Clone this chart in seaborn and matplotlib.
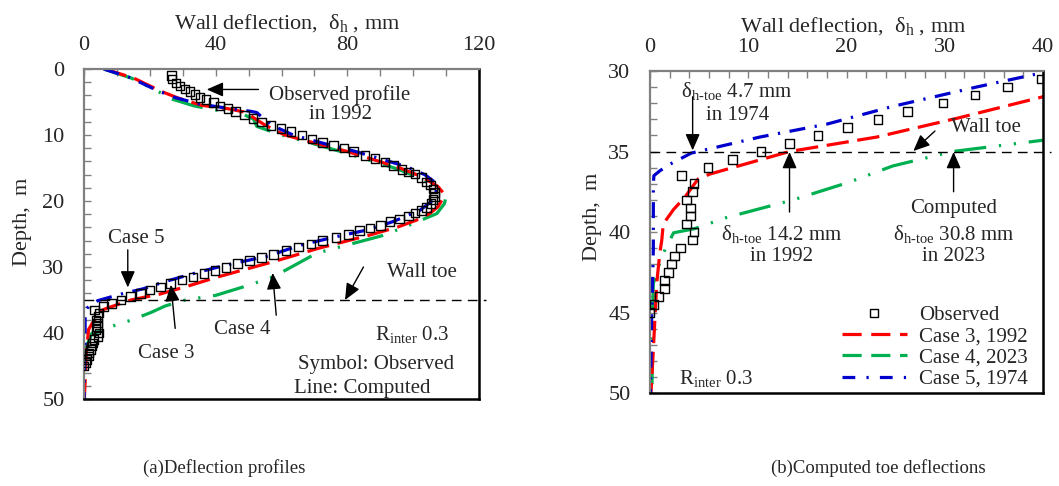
import numpy as np
import matplotlib
matplotlib.use("Agg")
import matplotlib.pyplot as plt
from matplotlib.lines import Line2D
from matplotlib.ticker import MultipleLocator
import seaborn as sns

# ---------------- data ----------------
obs_depth = [1.0, 1.5, 2.1, 2.6, 3.0, 3.4, 3.9, 4.3, 4.6, 5.1, 5.6, 6.0, 6.4, 7.0,
             7.5, 8.0, 8.6, 9.0, 9.5, 10.0, 10.6, 11.1, 11.6, 12.0, 12.5, 13.1,
             13.6, 14.1, 14.6, 15.2, 15.6, 15.9, 16.4, 17.1, 17.6, 18.2, 18.7,
             19.3, 19.8, 20.4, 21.0, 21.4, 21.8, 22.3, 22.7, 23.1, 23.7, 24.1,
             24.5, 25.1, 25.5, 26.0, 26.5, 27.0, 27.5, 28.1, 28.6, 29.0, 29.5,
             30.1, 30.5, 31.0, 31.5, 32.0, 32.5, 33.0, 33.5, 34.0, 34.5, 35.0,
             35.5, 36.0, 36.5, 37.0, 37.5, 38.0, 38.5, 39.0, 39.5, 40.0, 40.5,
             41.0, 41.5, 42.0, 42.5, 43.0, 43.5, 44.0, 44.5, 45.0]
obs_defl = [26.6, 26.8, 27.9, 29.2, 30.7, 32.2, 33.7, 35.3, 37.1, 39.3, 41.3, 43.7,
            46.1, 48.7, 51.3, 54.0, 56.8, 59.9, 62.9, 66.2, 69.2, 72.5, 75.8, 79.0,
            81.9, 85.4, 88.4, 91.5, 94.0, 96.6, 98.6, 100.6, 102.6, 104.0, 105.2,
            106.0, 106.4, 106.5, 106.0, 105.4, 104.0, 102.6, 100.6, 98.6, 95.8,
            93.0, 90.0, 86.9, 83.7, 80.3, 76.6, 72.5, 68.9, 65.1, 61.4, 57.5,
            54.0, 50.3, 46.6, 43.2, 39.8, 36.4, 33.1, 29.8, 26.2, 23.2, 20.1,
            17.1, 14.2, 11.3, 8.4, 5.9, 3.2, 4.5, 4.3, 3.7, 4.1, 4.1, 3.7, 4.5,
            4.3, 3.1, 2.5, 2.2, 1.9, 1.5, 1.5, 0.9, 0.4, 0.0]

case3_depth = [0, 1.4, 3.4, 4.4, 5.5, 6.0, 6.5, 7.2, 7.7, 8.5, 10.0, 11.3, 12.5,
               13.8, 15.0, 16.0, 16.8, 17.8, 18.8, 19.8, 20.9, 21.9, 22.9, 24.0,
               25.2, 27.2, 29.2, 30.7, 31.6, 32.9, 34.1, 35.0, 36.4, 36.7, 37.8,
               38.6, 39.5, 40.5, 41.3, 43.2, 47.3, 50.0]
case3_defl = [6.3, 15.2, 23.5, 28.6, 35.7, 43.6, 48.5, 51.0, 52.5, 55.0, 61.0,
              70.7, 80.0, 88.4, 96.0, 101.0, 104.2, 107.5, 109.2, 108.8, 107.5,
              105.0, 101.0, 95.0, 86.5, 71.0, 57.5, 46.5, 40.0, 31.5, 23.1, 14.2,
              6.1, 4.9, 3.6, 2.4, 1.35, 1.2, 1.0, 0.68, 0.34, 0.1]

case4_depth = [0, 1.4, 3.4, 4.6, 5.6, 6.3, 6.9, 7.6, 8.7, 10.0, 11.5, 12.8, 14.0,
               15.2, 16.4, 17.5, 18.4, 19.3, 20.4, 21.9, 23.6, 25.2, 27.9, 31.5,
               33.0, 34.3, 35.0, 35.9, 36.9, 38.0, 39.1, 39.8, 40.05, 41.5, 43.2,
               45.5, 50.0]
case4_defl = [6.0, 14.5, 22.5, 27.0, 33.5, 41.0, 48.5, 51.5, 52.5, 60.0, 71.0,
              80.0, 88.0, 95.5, 101.5, 105.5, 108.5, 110.0, 109.5, 107.2, 99.1,
              91.0, 70.7, 57.5, 48.5, 40.0, 30.8, 24.7, 20.3, 14.6, 7.8, 4.5,
              2.4, 1.2, 0.34, 0.25, 0.2]

case5_depth = [0, 1.3, 3.2, 4.3, 5.3, 5.9, 6.4, 6.6, 7.5, 8.5, 10.0, 11.3, 12.5,
               13.6, 14.8, 16.0, 17.3, 18.8, 19.8, 21.4, 23.1, 24.4, 25.5, 26.7,
               28.4, 29.5, 30.1, 31.0, 32.2, 33.3, 34.1, 35.1, 35.8, 36.2, 36.5,
               37.0, 41.1, 45.3, 50.0]
case5_defl = [6.0, 14.0, 22.0, 27.5, 35.0, 43.0, 50.5, 52.5, 54.5, 57.0, 63.5,
              73.0, 82.5, 90.0, 98.0, 103.5, 107.0, 107.0, 106.2, 102.1, 94.0,
              85.9, 75.8, 65.7, 55.5, 45.0, 40.0, 33.2, 24.7, 18.0, 11.2, 4.2,
              2.0, 1.0, 0.4, 0.34, 0.34, 0.17, 0.05]

wall_toe = 35.0
labels = ["Observed", "Case 3, 1992", "Case 4, 2023", "Case 5, 1974"]

# ---------------- style ----------------
sns.set_style("white")
plt.rcParams["font.family"] = ["Liberation Serif", "DejaVu Serif"]
plt.rcParams["mathtext.fontset"] = "custom"
plt.rcParams["mathtext.rm"] = "Liberation Serif"
plt.rcParams["mathtext.it"] = "Liberation Serif:italic"
plt.rcParams["mathtext.bf"] = "Liberation Serif:bold"

RED, GREEN, BLUE = "#ff0000", "#00b050", "#0000cc"
LW = 2.3
ls3 = (0, (7, 2.7))
ls4 = (0, (10, 4, 0.7, 4, 0.7, 4))
ls5 = (0, (5, 3, 0.7, 3))

fig = plt.figure(figsize=(10.59, 4.86), dpi=100)
W, H = 1059, 486
axA = fig.add_axes([84 / W, 1 - 399 / H, (479 - 84) / W, (399 - 69) / H])
axB = fig.add_axes([650 / W, 1 - 393 / H, (1043 - 650) / W, (393 - 71) / H])


def draw(ax):
    sns.lineplot(x=case4_defl, y=case4_depth, sort=False, estimator=None, ax=ax,
                 color=GREEN, lw=LW, linestyle=ls4)
    sns.lineplot(x=case3_defl, y=case3_depth, sort=False, estimator=None, ax=ax,
                 color=RED, lw=LW, linestyle=ls3)
    sns.lineplot(x=case5_defl, y=case5_depth, sort=False, estimator=None, ax=ax,
                 color=BLUE, lw=LW, linestyle=ls5)
    sns.scatterplot(x=obs_defl, y=obs_depth, ax=ax, marker="s", s=38,
                    facecolor="none", edgecolor="black", linewidth=1.0, zorder=5)


def style(ax, xmax, ymin, xmajor, xminor, ymajor, yminor):
    ax.set_xlim(0, xmax)
    ax.set_ylim(50, ymin)
    ax.xaxis.tick_top()
    ax.xaxis.set_label_position("top")
    ax.xaxis.set_major_locator(MultipleLocator(xmajor))
    ax.xaxis.set_minor_locator(MultipleLocator(xminor))
    ax.yaxis.set_major_locator(MultipleLocator(ymajor))
    ax.yaxis.set_minor_locator(MultipleLocator(yminor))
    ax.tick_params(axis="both", which="both", direction="in", length=5,
                   width=1.0, color="#808080", labelsize=16)
    ax.tick_params(axis="x", which="both", pad=10, top=True, bottom=False)
    ax.tick_params(axis="y", which="both", pad=14, left=True, right=False)
    for s in ("top", "left"):
        ax.spines[s].set_color("#808080")
        ax.spines[s].set_linewidth(1.6)
    for s in ("bottom", "right"):
        ax.spines[s].set_color("black")
        ax.spines[s].set_linewidth(1.8)
    ax.set_xlabel("Wall deflection,  δ$_\\mathrm{h}$ , mm", fontsize=16)
    ax.set_ylabel("Depth,  m", fontsize=16)
    ax.grid(False)


draw(axA)
draw(axB)
style(axA, 120, 0, 40, 10, 10, 2)
style(axB, 40, 30, 10, 2, 5, 1)

axA.xaxis.set_label_coords(0.514, 1.124)
axA.yaxis.set_label_coords(-0.132, 0.536)
axB.xaxis.set_label_coords(0.517, 1.124)
axB.yaxis.set_label_coords(-0.122, 0.547)

dash_toe = (0, (7, 4.5))
axA.plot([0, 122], [wall_toe, wall_toe], color="black", lw=1.0,
         linestyle=dash_toe, clip_on=False, zorder=4)
axB.plot([0, 40.8], [wall_toe, wall_toe], color="black", lw=1.0,
         linestyle=dash_toe, clip_on=False, zorder=4)

arrow = dict(arrowstyle="-|>,head_length=0.5,head_width=0.22", color="black",
             lw=1.0, mutation_scale=20, shrinkA=0, shrinkB=0)
FS = 15

# ---- panel (a) annotations ----
axA.annotate("", xy=(37.3, 3.1), xytext=(53.0, 3.1), arrowprops=arrow)
axA.text(77.8, 5.4, "Observed profile\nin 1992", ha="center", va="center",
         fontsize=FS, linespacing=1.05)
axA.annotate("", xy=(79.3, 35.0), xytext=(84.9, 30.0), arrowprops=arrow)
axA.text(102.6, 30.9, "Wall toe", ha="center", va="center", fontsize=FS)
axA.annotate("", xy=(13.3, 33.1), xytext=(13.3, 27.4), arrowprops=arrow)
axA.text(16.0, 25.7, "Case 5", ha="center", va="center", fontsize=FS)
axA.annotate("", xy=(26.4, 32.7), xytext=(27.7, 39.3), arrowprops=arrow)
axA.text(25.1, 43.1, "Case 3", ha="center", va="center", fontsize=FS)
axA.annotate("", xy=(57.3, 30.9), xytext=(58.4, 37.3), arrowprops=arrow)
axA.text(48.2, 39.5, "Case 4", ha="center", va="center", fontsize=FS)
axA.text(99.6, 40.2, "R$_\\mathrm{inter}$ 0.3", ha="center", va="center",
         fontsize=FS)
axA.text(88.8, 44.8, "Symbol: Observed", ha="center", va="center", fontsize=FS)
axA.text(84.4, 48.4, "Line: Computed", ha="center", va="center", fontsize=FS)

# ---- panel (b) annotations ----
toe = "δ$_\\mathrm{h\\text{-}toe}$"
axB.annotate("", xy=(4.34, 34.93), xytext=(4.34, 31.6), arrowprops=arrow)
axB.text(8.8, 31.24, toe + " 4.7 mm", ha="center", va="center", fontsize=FS)
axB.text(8.9, 32.75, "in 1974", ha="center", va="center", fontsize=FS)
axB.annotate("", xy=(14.2, 35.03), xytext=(14.2, 38.76), arrowprops=arrow)
axB.text(13.4, 40.1, toe + " 14.2 mm", ha="center", va="center", fontsize=FS)
axB.text(13.4, 41.55, "in 1992", ha="center", va="center", fontsize=FS)
axB.annotate("", xy=(30.9, 35.03), xytext=(30.9, 37.5), arrowprops=arrow)
axB.text(30.9, 38.55, "Computed", ha="center", va="center", fontsize=FS)
axB.text(30.9, 40.1, toe + " 30.8 mm", ha="center", va="center", fontsize=FS)
axB.text(30.9, 41.55, "in 2023", ha="center", va="center", fontsize=FS)
axB.annotate("", xy=(26.8, 34.97), xytext=(29.0, 33.73), arrowprops=arrow)
axB.text(34.2, 33.54, "Wall toe", ha="center", va="center", fontsize=FS)
axB.text(6.7, 49.1, "R$_\\mathrm{inter}$ 0.3", ha="center", va="center",
         fontsize=FS)

handles = [
    Line2D([], [], marker="s", markersize=6, markerfacecolor="none",
           markeredgecolor="black", markeredgewidth=1.0, linestyle="none"),
    Line2D([], [], color=RED, lw=LW, linestyle=(0, (6, 3))),
    Line2D([], [], color=GREEN, lw=LW, linestyle=(0, (6, 3))),
    Line2D([], [], color=BLUE, lw=LW, linestyle=(0, (4, 3.5, 0.7, 3.5))),
]
axB.legend(handles, labels, loc="lower left", bbox_to_anchor=(0.478, 0.0),
           frameon=False, fontsize=FS, handlelength=3.1, handletextpad=0.6,
           labelspacing=0.08, borderpad=0.2, borderaxespad=0.0)

fig.text(224 / W, 1 - 468 / H, "(a)Deflection profiles", ha="center",
         va="center", fontsize=13.5)
fig.text(878 / W, 1 - 468 / H, "(b)Computed toe deflections", ha="center",
         va="center", fontsize=13.5)

fig.savefig("out.png", dpi=100)
